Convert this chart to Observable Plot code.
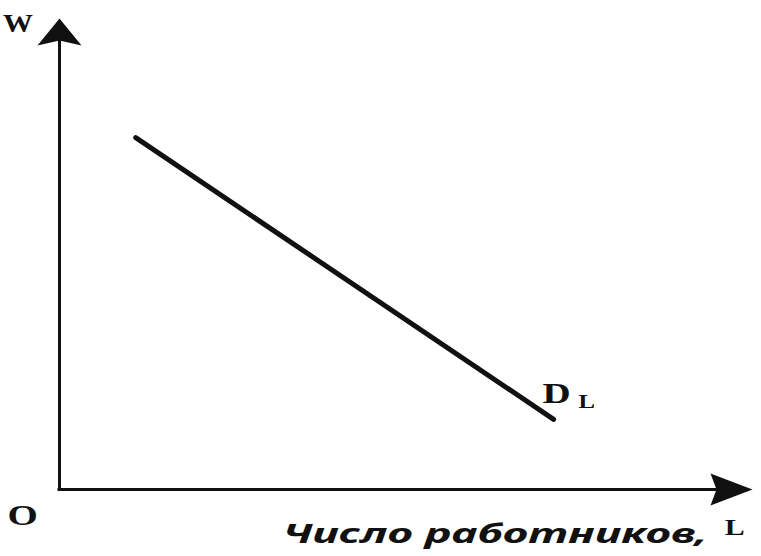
<!DOCTYPE html>
<html>
<head>
<meta charset="utf-8">
<script src="https://cdn.jsdelivr.net/npm/d3@7"></script>
<script src="https://cdn.jsdelivr.net/npm/@observablehq/plot@0.6"></script>
<style>
  html, body { margin: 0; padding: 0; background: #fff; }
  svg { display: block; }
</style>
</head>
<body>
<div id="chart"></div>
<script>
// Labour demand curve D_L (wage W vs number of workers L), in axis units 0..100
const demandL = [11.0, 71.3];
const demandW = [74.7, 14.9];
const axisMax = 100;
const curveName = "D";
const curveSub = "L";
const yLabel = "W";
const originLabel = "O";
const xLabelText = "Число работников,";
const xLabelSymbol = "L";

const demand = demandL.map((l, i) => ({L: l, W: demandW[i]}));

// filled arrowheads as custom symbols (tip at the anchor point)
const arrowUp = {draw(ctx) { ctx.moveTo(0, 0); ctx.lineTo(22, 27); ctx.lineTo(0, 22); ctx.lineTo(-22, 27); ctx.closePath(); }};
const arrowRight = {draw(ctx) { ctx.moveTo(0, 0); ctx.lineTo(-42, -16); ctx.lineTo(-36, 0); ctx.lineTo(-42, 16); ctx.closePath(); }};

const serif = "'Liberation Serif', 'DejaVu Serif', serif";

const chart = Plot.plot({
  width: 761,
  height: 556,
  marginTop: 0, marginRight: 0, marginBottom: 0, marginLeft: 0,
  x: {domain: [0, axisMax], range: [59, 752], axis: null},
  y: {domain: [0, axisMax], range: [489, 18], axis: null},
  style: {background: "#fff", overflow: "visible"},
  marks: [
    // axes
    Plot.ruleX([0], {y1: 0, y2: axisMax - 3, stroke: "#111", strokeWidth: 3, strokeLinecap: "square"}),
    Plot.ruleY([0], {x1: 0, x2: axisMax - 3, stroke: "#111", strokeWidth: 3, strokeLinecap: "square"}),
    Plot.dot([{x: 0, y: axisMax}], {x: "x", y: "y", symbol: arrowUp, fill: "#111", stroke: null}),
    Plot.dot([{x: axisMax, y: 0}], {x: "x", y: "y", symbol: arrowRight, fill: "#111", stroke: null}),
    // demand curve
    Plot.line(demand, {x: "L", y: "W", stroke: "#111", strokeWidth: 5, strokeLinecap: "round"}),
    // labels
    Plot.text([yLabel], {x: -6.0, y: 97.2, text: d => d, textAnchor: "middle", lineAnchor: "bottom",
      fontFamily: serif, fontWeight: "bold", fontSize: 26, fill: "#111"}),
    Plot.text([originLabel], {x: -5.3, y: -7.6, text: d => d, textAnchor: "middle", lineAnchor: "bottom",
      fontFamily: serif, fontWeight: "bold", fontSize: 30, fill: "#111"}),
    Plot.text([curveName], {x: 69.7, y: 18.3, text: d => d, textAnchor: "start", lineAnchor: "bottom",
      fontFamily: serif, fontWeight: "bold", fontSize: 30, fill: "#111"}),
    Plot.text([curveSub], {x: 74.9, y: 17.3, text: d => d, textAnchor: "start", lineAnchor: "bottom",
      fontFamily: serif, fontWeight: "bold", fontSize: 19, fill: "#111"}),
    Plot.text([xLabelSymbol], {x: 96.0, y: -9.6, text: d => d, textAnchor: "start", lineAnchor: "bottom",
      fontFamily: serif, fontWeight: "bold", fontSize: 23, fill: "#111"}),
    Plot.text([xLabelText], {x: 32.2, y: -11.3, text: d => d, textAnchor: "start", lineAnchor: "bottom",
      fontFamily: "'Noto Sans', 'DejaVu Sans', sans-serif", fontWeight: "bold", fontStyle: "italic", fontSize: 26, fill: "#111"})
  ]
});

// widen the glyphs like the (horizontally stretched) scan
d3.select(chart).selectAll("text").each(function() {
  const t = this;
  if (t.textContent === xLabelText) {
    t.setAttribute("textLength", 425);
    t.setAttribute("lengthAdjust", "spacingAndGlyphs");
  } else {
    const tr = t.getAttribute("transform") || "";
    const sx = t.textContent === yLabel ? 1.15 : 1.3;
    t.setAttribute("transform", tr + ` scale(${sx},1)`);
  }
});

document.getElementById("chart").appendChild(chart);
</script>
</body>
</html>
